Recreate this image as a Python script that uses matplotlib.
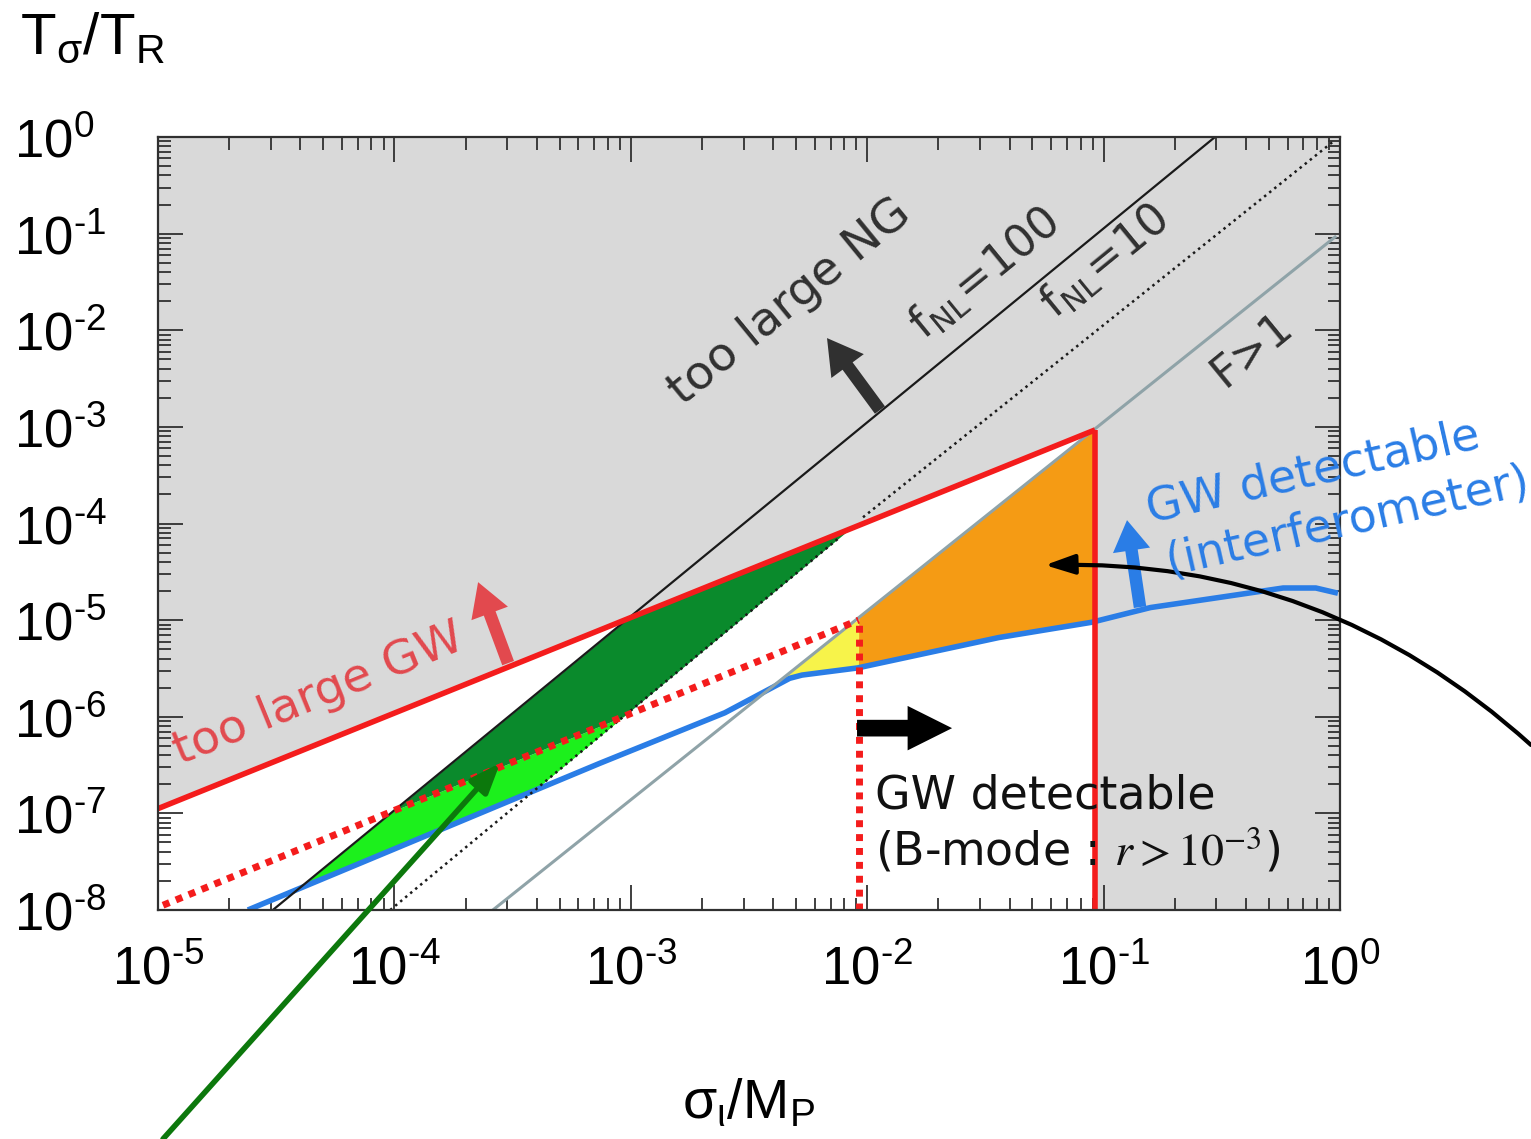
import numpy as np
import matplotlib
matplotlib.use('Agg')
import matplotlib.pyplot as plt
from matplotlib.ticker import FixedLocator, FixedFormatter, LogLocator, NullFormatter

plt.rcParams['mathtext.fontset'] = 'custom'
plt.rcParams['mathtext.rm'] = 'Liberation Sans'
plt.rcParams['mathtext.it'] = 'Liberation Sans:italic'
plt.rcParams['mathtext.bf'] = 'Liberation Sans:bold'
plt.rcParams['mathtext.sf'] = 'Liberation Sans'
plt.rcParams['font.family'] = ['DejaVu Sans']

# ---------------- data ----------------
x_ticks = [1e-5, 1e-4, 1e-3, 1e-2, 1e-1, 1e0]
x_tick_labels = ['$10^{\u20105}$', '$10^{\u20104}$', '$10^{\u20103}$', '$10^{\u20102}$',
                 '$10^{\u20101}$', '$10^{0}$']
y_ticks = [1e-8, 1e-7, 1e-6, 1e-5, 1e-4, 1e-3, 1e-2, 1e-1, 1e0]
y_tick_labels = ['$10^{\u20108}$', '$10^{\u20107}$', '$10^{\u20106}$', '$10^{\u20105}$',
                 '$10^{\u20104}$', '$10^{\u20103}$', '$10^{\u20102}$', '$10^{\u20101}$', '$10^{0}$']

# "too large GW" boundary (red solid)
gw_x = [1.0e-5, 0.092]
gw_y = [1.12e-7, 9.3e-4]
# B-mode detectable boundary (red dotted)
bmode_x = [1.05e-5, 0.0092]
bmode_y = [1.12e-8, 1.0e-5]
bmode_cut = 0.0092     # vertical red dotted line
interf_cut = 0.092     # vertical red solid line
# f_NL = 100 (black solid)
fnl100_x = [3.06e-5, 0.296]
fnl100_y = [1.0e-8, 1.0]
# f_NL = 10 (black dotted), drawn in two pieces (below / above the red line)
fnl10_lo_x = [9.6e-5, 7.67e-3]
fnl10_lo_y = [1.0e-8, 7.23e-5]
fnl10_hi_x = [9.6e-3, 0.953]
fnl10_hi_y = [1.16e-4, 0.93]
# F > 1 (grey)
f1_x = [2.61e-4, 0.953]
f1_y = [1.0e-8, 0.0923]
# interferometer sensitivity (blue)
blue_x = [2.4e-5, 7.4e-4, 2.5e-3, 4.7e-3, 5.3e-3, 9.1e-3, 3.6e-2, 8.9e-2, 0.158, 0.30, 0.575, 0.79, 0.98]
blue_y = [1.0e-8, 3.3e-7, 1.1e-6, 2.5e-6, 2.7e-6, 3.2e-6, 6.6e-6, 9.5e-6, 1.35e-5, 1.7e-5, 2.15e-5, 2.15e-5, 1.9e-5]

# ---------------- colours ----------------
C_BG = '#d9d9d9'
C_RED = '#f41c1c'
C_REDTXT = '#e2494e'
C_BLUE = '#2a7de6'
C_GREY = '#8fa3a8'
C_DKGREEN = '#0a8a2c'
C_LTGREEN = '#1cf01c'
C_YELLOW = '#f7f34a'
C_ORANGE = '#f59b14'
C_DARK = '#303030'


def loglin(xs, ys):
    p = np.polyfit(np.log10(xs), np.log10(ys), 1)
    return lambda x: 10 ** np.polyval(p, np.log10(x))


def logcurve(xs, ys):
    lx, ly = np.log10(xs), np.log10(ys)
    return lambda x: 10 ** np.interp(np.log10(x), lx, ly, left=np.nan, right=np.nan)


fig = plt.figure(figsize=(15.31, 11.39), dpi=100)
ax = fig.add_axes([158 / 1531, 1 - 910 / 1139, (1340 - 158) / 1531, (910 - 137) / 1139])
ax.set_xscale('log')
ax.set_yscale('log')
ax.set_xlim(1e-5, 1)
ax.set_ylim(1e-8, 1)
ax.set_facecolor(C_BG)

xg = np.logspace(-5, 0, 6000)
gw = loglin(gw_x, gw_y)(xg)
bm = loglin(bmode_x, bmode_y)(xg)
n100 = loglin(fnl100_x, fnl100_y)(xg)
n10 = loglin(fnl10_lo_x, fnl10_lo_y)(xg)
f1 = loglin(f1_x, f1_y)(xg)
bl = logcurve(blue_x, blue_y)(xg)

# white allowed region
ax.fill_between(xg, 1e-9, gw, where=xg <= interf_cut, color='white', lw=0, interpolate=True)
# light green
lo = np.maximum(bl, n10); hi = np.minimum(bm, n100)
ax.fill_between(xg, lo, hi, where=hi > lo, color=C_LTGREEN, lw=0, interpolate=True)
# dark green
lo = np.maximum(bm, n10); hi = np.minimum(gw, n100)
ax.fill_between(xg, lo, hi, where=hi > lo, color=C_DKGREEN, lw=0, interpolate=True)
# yellow
hi = np.minimum(f1, bm)
ax.fill_between(xg, bl, hi, where=(hi > bl) & (xg <= bmode_cut), color=C_YELLOW, lw=0, interpolate=True)
# orange
hi = np.minimum(f1, gw)
ax.fill_between(xg, bl, hi, where=(hi > bl) & (xg >= bmode_cut) & (xg <= interf_cut),
                color=C_ORANGE, lw=0, interpolate=True)

# lines
ax.plot(blue_x, blue_y, color=C_BLUE, lw=4, solid_capstyle='butt', zorder=3)
ax.plot(f1_x, f1_y, color=C_GREY, lw=2.2, zorder=3)
ax.plot(fnl100_x, fnl100_y, color='#1a1a1a', lw=1.6, zorder=3)
ax.plot(fnl10_lo_x, fnl10_lo_y, color='#1a1a1a', lw=1.8, linestyle=(0, (1, 1.6)), zorder=3)
ax.plot(fnl10_hi_x, fnl10_hi_y, color='#1a1a1a', lw=1.8, linestyle=(0, (1, 1.6)), zorder=3)
ax.plot(bmode_x, bmode_y, color=C_RED, lw=5, linestyle=(0, (1, 1)), zorder=4)
ax.plot([bmode_cut, bmode_cut], [1e-8, bmode_y[1]], color=C_RED, lw=5, linestyle=(0, (1, 1)), zorder=4)
ax.plot(gw_x, gw_y, color=C_RED, lw=4, zorder=4, solid_capstyle='butt')
ax.plot([interf_cut, interf_cut], [1e-8, gw_y[1]], color=C_RED, lw=4, zorder=4, solid_capstyle='butt')

# ticks
ax.xaxis.set_major_locator(FixedLocator(x_ticks))
ax.xaxis.set_major_formatter(FixedFormatter(x_tick_labels))
ax.yaxis.set_major_locator(FixedLocator(y_ticks))
ax.yaxis.set_major_formatter(FixedFormatter(y_tick_labels))
ax.xaxis.set_minor_locator(LogLocator(base=10, subs=np.arange(2, 10), numticks=50))
ax.yaxis.set_minor_locator(LogLocator(base=10, subs=np.arange(2, 10), numticks=50))
ax.xaxis.set_minor_formatter(NullFormatter())
ax.yaxis.set_minor_formatter(NullFormatter())
ax.tick_params(which='both', direction='in', top=True, right=True, color=C_DARK, width=1.3)
ax.tick_params(which='major', length=18)
ax.tick_params(which='minor', length=9)
ax.tick_params(axis='x', which='major', labelsize=38, pad=24)
ax.tick_params(axis='y', which='major', labelsize=38, pad=104)
for lbl in ax.get_yticklabels():
    lbl.set_horizontalalignment('left')
for sp in ax.spines.values():
    sp.set_linewidth(1.6)
    sp.set_color(C_DARK)
    sp.set_zorder(6)

# axis titles
fig.text(20 / 1531, 1 - 54 / 1139, r'$\mathregular{T_{\sigma}/T_R}$', fontsize=42,
         family='Liberation Sans', ha='left', va='baseline')
fig.text(748 / 1531, 1 - 1118 / 1139, r'$\mathregular{\sigma_{\iota}/M_P}$', fontsize=40,
         family='Liberation Sans', ha='center', va='baseline')

# arrows
def block_arrow(tail, head, color, hw, hl, tw):
    ax.annotate('', xy=head, xytext=tail, xycoords='data', textcoords='data',
                arrowprops=dict(arrowstyle=f'simple,head_width={hw},head_length={hl},tail_width={tw}',
                                color=color, shrinkA=0, shrinkB=0, mutation_scale=20, lw=0),
                zorder=7)

block_arrow((10**-1.946, 10**-2.826), (10**-2.170, 10**-2.081), C_DARK, 1.45, 1.25, 0.45)
block_arrow((10**-3.519, 10**-5.445), (10**-3.646, 10**-4.607), C_REDTXT, 1.4, 1.2, 0.45)
block_arrow((10**-0.846, 10**-4.865), (10**-0.901, 10**-3.965), C_BLUE, 1.35, 1.1, 0.45)
block_arrow((10**-2.043, 10**-6.118), (10**-1.641, 10**-6.118), 'black', 1.6, 1.6, 0.6)

ax.annotate('', xy=(10**-3.553, 10**-6.480), xycoords='data',
            xytext=(163, 0), textcoords='figure pixels',
            arrowprops=dict(arrowstyle='-|>,head_width=0.35,head_length=0.9', color='#0c780c',
                            lw=4, shrinkA=0, shrinkB=0, mutation_scale=20),
            annotation_clip=False, zorder=8)
ax.annotate('', xy=(10**-1.248, 10**-4.431), xycoords='data',
            xytext=(1531, 394), textcoords='figure pixels',
            arrowprops=dict(arrowstyle='-|>,head_width=0.3,head_length=0.9', color='black',
                            lw=3, shrinkA=0, shrinkB=0, mutation_scale=20,
                            connectionstyle='arc3,rad=0.2'),
            annotation_clip=False, zorder=8)

# texts
def rtext(lx, ly, s, rot, color, size, **kw):
    ax.text(10**lx, 10**ly, s, rotation=rot, rotation_mode='anchor', ha='left', va='baseline',
            color=color, fontsize=size, zorder=9, **kw)

rtext(-4.907, -6.501, 'too large GW', 22.2, C_REDTXT, 34)
rtext(-2.780, -2.790, 'too large NG', 39.3, C_DARK, 34)
rtext(-1.760, -2.110, r'$\mathregular{f_{NL}}$=100', 39.3, C_DARK, 32)
rtext(-1.205, -1.890, r'$\mathregular{f_{NL}}$=10', 39.3, C_DARK, 32)
rtext(-0.486, -2.598, 'F>1', 39.3, C_DARK, 32)
rtext(-0.804, -3.986, 'GW detectable', 12.8, C_BLUE, 33)
rtext(-0.719, -4.534, '(interferometer)', 12.8, C_BLUE, 33)
rtext(-1.967, -6.946, 'GW detectable', 0, '#111111', 33)
ax.text(10**-1.967, 10**-7.536, r'(B-mode : $r > 10^{-3}$)', ha='left', va='baseline',
        color='#111111', fontsize=33, zorder=9, math_fontfamily='stix')

fig.savefig('out.png', dpi=100)
